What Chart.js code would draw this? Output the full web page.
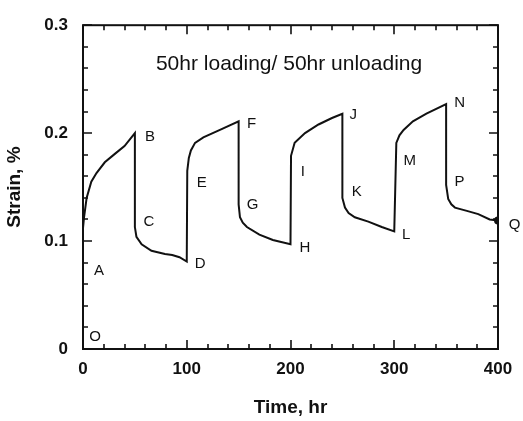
<!DOCTYPE html>
<html>
<head>
<meta charset="utf-8">
<script src="https://cdn.jsdelivr.net/npm/chart.js@4"></script>
<style>
  html, body { margin: 0; padding: 0; background: #fff; }
  canvas { display: block; }
</style>
</head>
<body>
<canvas id="strain_chart" width="523" height="421"></canvas>
<script>
// creep / recovery curve, 50hr loading / 50hr unloading
const timeHr = [
  0, 0, 1, 3.5, 8, 13, 21, 31, 40, 50,
  50, 51.5, 56.5, 66, 79, 86, 93, 100,
  100, 100.5, 102, 104, 108, 116, 132, 150,
  150, 151.3, 154, 158, 170, 183, 200,
  200, 200.5, 204, 214, 227, 240, 250,
  250, 252.5, 256, 262, 275, 288, 300,
  300, 302, 305, 309, 318, 331, 350,
  350, 352, 355, 358.5, 370, 381, 392, 400
];
const strainPct = [
  0, 0.112, 0.122, 0.140, 0.155, 0.163, 0.173, 0.181, 0.188, 0.200,
  0.113, 0.104, 0.097, 0.091, 0.088, 0.087, 0.085, 0.081,
  0.081, 0.165, 0.177, 0.184, 0.191, 0.196, 0.203, 0.211,
  0.134, 0.122, 0.117, 0.113, 0.106, 0.101, 0.097,
  0.097, 0.179, 0.191, 0.200, 0.208, 0.214, 0.218,
  0.140, 0.131, 0.126, 0.122, 0.118, 0.113, 0.109,
  0.109, 0.191, 0.198, 0.203, 0.211, 0.218, 0.227,
  0.152, 0.139, 0.134, 0.131, 0.128, 0.125, 0.120, 0.119
];

const xTickLabels = ['0', '100', '200', '300', '400'];
const yTickLabels = ['0', '0.1', '0.2', '0.3'];

// point letters along the curve (in data units)
const pointNames = ['O', 'A', 'B', 'C', 'D', 'E', 'F', 'G', 'H', 'I', 'J', 'K', 'L', 'M', 'N', 'P', 'Q'];
const pointNameX = [11.6, 15.4, 64.6, 63.6, 113, 114.4, 162.6, 163.5, 214, 212, 260.5, 263.8, 311.6, 315, 363, 363, 416];
const pointNameY = [0.011, 0.072, 0.197, 0.118, 0.079, 0.154, 0.209, 0.134, 0.094, 0.164, 0.2168, 0.146, 0.1057, 0.174, 0.228, 0.155, 0.1147];

const noteText = '50hr loading/ 50hr unloading';
const noteX = 198.6;
const noteY = 0.264;

const FONT = '"Liberation Sans", Arial, Helvetica, sans-serif';

const curveData = timeHr.map(function(t, i) { return { x: t, y: strainPct[i] }; });

// frame with inward ticks on all four sides, plus letters and the note
const framePlugin = {
  id: 'frame',
  afterDraw: function(chart) {
    const ctx = chart.ctx;
    const a = chart.chartArea;
    const xs = chart.scales.x;
    const ys = chart.scales.y;
    ctx.save();
    ctx.strokeStyle = '#111';
    ctx.lineWidth = 2;
    ctx.strokeRect(a.left, a.top, a.right - a.left, a.bottom - a.top);

    ctx.lineWidth = 1.6;
    ctx.beginPath();
    for (let v = 0; v <= 400; v += 20) {
      const px = Math.round(xs.getPixelForValue(v));
      const len = (v % 100 === 0) ? 9 : 5;
      ctx.moveTo(px, a.bottom); ctx.lineTo(px, a.bottom - len);
      ctx.moveTo(px, a.top);    ctx.lineTo(px, a.top + len);
    }
    for (let k = 0; k <= 15; k++) {
      const py = Math.round(ys.getPixelForValue(k * 0.02));
      const len = (k % 5 === 0) ? 9 : 5;
      ctx.moveTo(a.left, py);  ctx.lineTo(a.left + len, py);
      ctx.moveTo(a.right, py); ctx.lineTo(a.right - len, py);
    }
    ctx.stroke();

    ctx.fillStyle = '#111';
    ctx.textAlign = 'center';
    ctx.textBaseline = 'middle';
    ctx.font = '15px ' + FONT;
    pointNames.forEach(function(name, i) {
      ctx.fillText(name, xs.getPixelForValue(pointNameX[i]), ys.getPixelForValue(pointNameY[i]));
    });

    ctx.font = '21px ' + FONT;
    ctx.fillText(noteText, xs.getPixelForValue(noteX), ys.getPixelForValue(noteY));
    ctx.restore();
  }
};

const chart = new Chart('strain_chart', {
  type: 'scatter',
  data: {
    datasets: [{
      data: curveData,
      showLine: true,
      borderColor: '#111',
      backgroundColor: '#111',
      borderWidth: 2,
      tension: 0,
      pointRadius: function(c) { return c.dataIndex === curveData.length - 1 ? 3 : 0; },
      pointHoverRadius: 0
    }]
  },
  options: {
    responsive: false,
    animation: false,
    devicePixelRatio: 1,
    layout: { padding: { left: 0, top: 16, right: 25, bottom: 0 } },
    plugins: {
      legend: { display: false },
      tooltip: { enabled: false }
    },
    scales: {
      x: {
        type: 'linear',
        min: 0,
        max: 400,
        afterFit: function(scale) { scale.height = 72; },
        grid: { display: false, drawTicks: false },
        border: { display: false },
        ticks: {
          stepSize: 100,
          padding: 10,
          color: '#111',
          font: { family: FONT, size: 17, weight: 'bold' },
          callback: function(v, i) { return xTickLabels[i]; }
        },
        title: {
          display: true,
          text: 'Time, hr',
          color: '#111',
          padding: { top: 0, bottom: 2 },
          font: { family: FONT, size: 19, weight: 'bold' }
        }
      },
      y: {
        min: 0,
        max: 0.3,
        afterFit: function(scale) { scale.width = 83; },
        grid: { display: false, drawTicks: false },
        border: { display: false },
        ticks: {
          stepSize: 0.1,
          padding: 15,
          color: '#111',
          font: { family: FONT, size: 17, weight: 'bold' },
          callback: function(v, i) { return yTickLabels[i]; }
        },
        title: {
          display: true,
          text: 'Strain, %',
          color: '#111',
          padding: { top: 3, bottom: 0 },
          font: { family: FONT, size: 19, weight: 'bold' }
        }
      }
    }
  },
  plugins: [framePlugin]
});
</script>
</body>
</html>
